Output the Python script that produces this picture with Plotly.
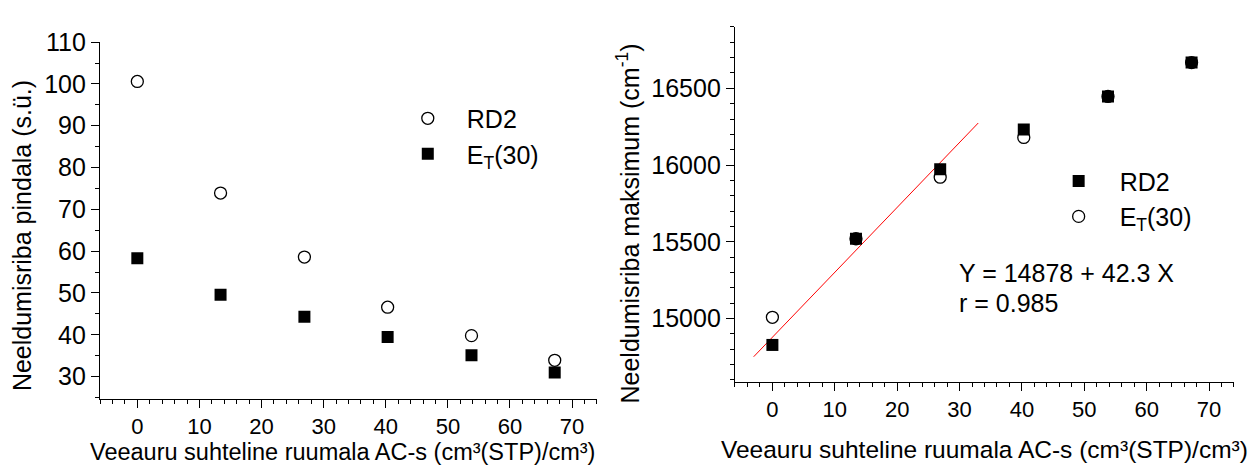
import plotly.graph_objects as go

# ---------------- data ----------------
x_vol = [0, 13.4, 26.9, 40.3, 53.8, 67.2]

# left panel: absorption band area (s.ü.)
area_rd2 = [100.6, 73.9, 58.6, 46.6, 39.8, 33.9]
area_et30 = [58.3, 49.6, 44.3, 39.5, 35.1, 31.0]

# right panel: absorption band maximum (cm-1)
max_rd2 = [14828, 15520, 15972, 16232, 16447, 16668]
max_et30 = [15008, 15520, 15921, 16180, 16447, 16668]

fit_intercept = 14878
fit_slope = 42.3
fit_x = [-3, 33]
fit_y = [fit_intercept + fit_slope * v for v in fit_x]

FONT = "Liberation Sans, Arial, sans-serif"
FS = 25
FS_XT = 22
X_TITLE = "Veeauru suhteline ruumala AC-s (cm³(STP)/cm³)"

fig = go.Figure()

# left panel
fig.add_trace(go.Scatter(x=x_vol, y=area_rd2, mode="markers", name="RD2",
                         marker=dict(symbol="circle-open", size=12, color="black", line=dict(width=1.3)),
                         xaxis="x", yaxis="y", legend="legend"))
fig.add_trace(go.Scatter(x=x_vol, y=area_et30, mode="markers", name="E<sub>T</sub>(30)",
                         marker=dict(symbol="square", size=12, color="black"),
                         xaxis="x", yaxis="y", legend="legend"))

# right panel
fig.add_trace(go.Scatter(x=fit_x, y=fit_y, mode="lines", showlegend=False,
                         line=dict(color="red", width=1), xaxis="x2", yaxis="y2"))
fig.add_trace(go.Scatter(x=x_vol, y=max_rd2, mode="markers", name="RD2",
                         marker=dict(symbol="square", size=12, color="black"),
                         xaxis="x2", yaxis="y2", legend="legend2"))
fig.add_trace(go.Scatter(x=x_vol, y=max_et30, mode="markers", name="E<sub>T</sub>(30)",
                         marker=dict(symbol="circle-open", size=12, color="black", line=dict(width=1.3)),
                         xaxis="x2", yaxis="y2", legend="legend2"))

axis_common = dict(showline=True, linecolor="black", linewidth=1.3, ticks="outside",
                   tickcolor="black", tickwidth=1.3, ticklen=8, showgrid=False,
                   zeroline=False, mirror=False, tickformat="d")
yfont = dict(tickfont=dict(family=FONT, size=FS, color="black"))
xfont = dict(tickfont=dict(family=FONT, size=FS_XT, color="black"))

fig.update_layout(
    width=1257, height=466,
    margin=dict(l=0, r=0, t=0, b=0),
    paper_bgcolor="white", plot_bgcolor="white",
    font=dict(family=FONT, size=FS, color="black"),
    xaxis=dict(domain=[0.0796, 0.4749], range=[-6, 74], tickvals=[0, 10, 20, 30, 40, 50, 60, 70],
               minor=dict(dtick=2, tick0=0, ticklen=4, tickcolor="black", tickwidth=1.3, ticks="outside"),
               anchor="y", **axis_common, **xfont),
    yaxis=dict(domain=[0.1487, 0.9378], range=[24.7, 110], tickvals=[30, 40, 50, 60, 70, 80, 90, 100, 110],
               minor=dict(dtick=5, tick0=0, ticklen=4, tickcolor="black", tickwidth=1.3, ticks="outside"),
               anchor="x", **axis_common, **yfont),
    xaxis2=dict(domain=[0.5847, 0.9817], range=[-6, 74], tickvals=[0, 10, 20, 30, 40, 50, 60, 70],
                minor=dict(dtick=2, tick0=0, ticklen=4, tickcolor="black", tickwidth=1.3, ticks="outside"),
                anchor="y2", **axis_common, **xfont),
    yaxis2=dict(domain=[0.186, 0.9721], range=[14587, 16902], tickvals=[15000, 15500, 16000, 16500],
                minor=dict(dtick=100, tick0=0, ticklen=4, tickcolor="black", tickwidth=1.3, ticks="outside"),
                anchor="x2", **axis_common, **yfont),
    legend=dict(x=0.3093, y=0.73, xanchor="left", yanchor="middle", bgcolor="rgba(0,0,0,0)",
                font=dict(family=FONT, size=FS), itemwidth=68, tracegroupgap=0),
    legend2=dict(x=0.8255, y=0.5915, xanchor="left", yanchor="middle", bgcolor="rgba(0,0,0,0)",
                 font=dict(family=FONT, size=FS), itemwidth=72, tracegroupgap=0),
    showlegend=True,
)

annotations = [
    dict(text="Neeldumisriba pindala (s.ü.)", x=22 / 1257, y=1 - 229 / 466, xref="paper", yref="paper",
         xanchor="center", yanchor="middle", textangle=-90, showarrow=False, font=dict(family=FONT, size=FS)),
    dict(text=X_TITLE, x=342 / 1257, y=0, yshift=-1, xref="paper", yref="paper",
         xanchor="center", yanchor="bottom", showarrow=False, font=dict(family=FONT, size=23.5)),
    dict(text="Neeldumisriba maksimum (cm<sup>-1</sup>)", x=628 / 1257, y=1 - 216 / 466, xref="paper",
         yref="paper", xanchor="center", yanchor="middle", textangle=-90, showarrow=False,
         font=dict(family=FONT, size=FS)),
    dict(text=X_TITLE, x=984 / 1257, y=1 - 449 / 466, xref="paper", yref="paper",
         xanchor="center", yanchor="middle", showarrow=False, font=dict(family=FONT, size=24.5)),
    dict(text="Y = 14878 + 42.3 X", x=957 / 1257, y=1 - 267 / 466, xref="paper", yref="paper",
         xanchor="left", yanchor="middle", showarrow=False, font=dict(family=FONT, size=FS)),
    dict(text="r = 0.985", x=957 / 1257, y=1 - 298 / 466, xref="paper", yref="paper",
         xanchor="left", yanchor="middle", showarrow=False, font=dict(family=FONT, size=FS)),
]
fig.update_layout(annotations=annotations)

fig.write_html("out.html")
